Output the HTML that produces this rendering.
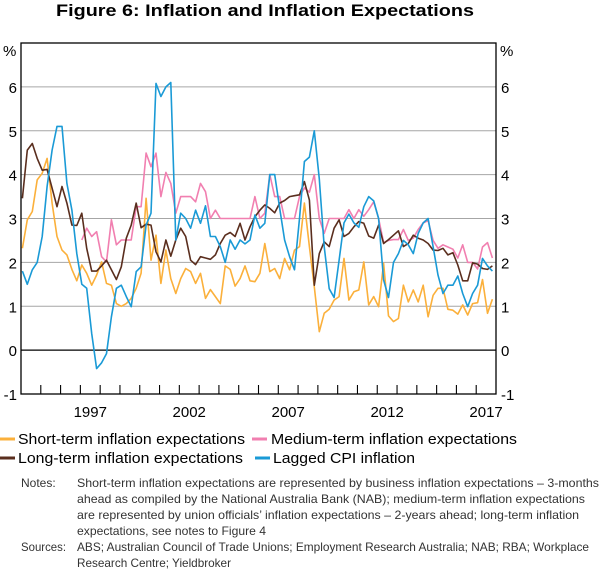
<!DOCTYPE html>
<html><head><meta charset="utf-8"><style>
html,body{margin:0;padding:0;background:#fff;}
svg{display:block;font-family:"Liberation Sans",Arial,sans-serif;}
</style></head><body>
<svg id="chart" width="600" height="571" viewBox="0 0 600 571" xmlns="http://www.w3.org/2000/svg">
<text x="56" y="16" font-size="17" font-weight="bold" textLength="418" lengthAdjust="spacingAndGlyphs">Figure 6: Inflation and Inflation Expectations</text>
<g id="grid"></g>
<g id="axes"></g>
<g id="series"></g>
<rect x="21" y="43" width="475" height="351" fill="none" stroke="#000" stroke-width="1.3"/>
<g font-size="15">
  <g><line x1="0" y1="439" x2="15" y2="439" stroke="#fbb03b" stroke-width="3"/><text x="18" y="444" textLength="227" lengthAdjust="spacingAndGlyphs">Short-term inflation expectations</text></g>
  <g><line x1="252" y1="439" x2="267" y2="439" stroke="#f17fb0" stroke-width="3"/><text x="271" y="444" textLength="246" lengthAdjust="spacingAndGlyphs">Medium-term inflation expectations</text></g>
  <g><line x1="0" y1="458" x2="15" y2="458" stroke="#5a2e1e" stroke-width="3"/><text x="18" y="463" textLength="225" lengthAdjust="spacingAndGlyphs">Long-term inflation expectations</text></g>
  <g><line x1="255" y1="458" x2="270" y2="458" stroke="#1a9ad6" stroke-width="3"/><text x="273" y="463" textLength="142" lengthAdjust="spacingAndGlyphs">Lagged CPI inflation</text></g>
</g>
<g font-size="12" fill="#333">
  <text x="21" y="487">Notes:</text>
  <text x="77" y="487" textLength="522" lengthAdjust="spacingAndGlyphs">Short-term inflation expectations are represented by business inflation expectations – 3-months</text>
  <text x="77" y="503" textLength="508" lengthAdjust="spacingAndGlyphs">ahead as compiled by the National Australia Bank (NAB); medium-term inflation expectations</text>
  <text x="77" y="519" textLength="502" lengthAdjust="spacingAndGlyphs">are represented by union officials’ inflation expectations – 2-years ahead; long-term inflation</text>
  <text x="77" y="535" textLength="189" lengthAdjust="spacingAndGlyphs">expectations, see notes to Figure 4</text>
</g>
<g font-size="12" fill="#333">
  <text x="21" y="551" textLength="45" lengthAdjust="spacingAndGlyphs">Sources:</text>
  <text x="77" y="551" textLength="512" lengthAdjust="spacingAndGlyphs">ABS; Australian Council of Trade Unions; Employment Research Australia; NAB; RBA; Workplace</text>
  <text x="77" y="567" textLength="154" lengthAdjust="spacingAndGlyphs">Research Centre; Yieldbroker</text>
</g>
</svg>
<script>
const startYear = 1994;
const yTicks = [-1,0,1,2,3,4,5,6];
const xLabels = [1997,2002,2007,2012,2017];
const shortTerm = [2.32,2.97,3.16,3.88,4.03,4.37,3.35,2.59,2.28,2.17,1.84,1.58,1.94,1.75,1.48,1.71,2.01,1.52,1.48,1.06,1.0,1.06,1.18,1.41,1.75,3.46,2.05,2.62,1.52,2.28,1.63,1.29,1.63,1.86,1.79,1.52,1.75,1.18,1.38,1.22,1.06,1.92,1.84,1.46,1.63,1.92,1.58,1.56,1.75,2.43,1.79,1.86,1.63,2.09,1.83,2.28,2.36,3.35,2.36,1.44,0.42,0.84,0.93,1.14,1.22,2.09,1.14,1.33,1.37,2.01,1.03,1.22,0.99,1.98,0.78,0.65,0.72,1.48,1.1,1.37,1.1,1.48,0.76,1.25,1.41,1.41,0.93,0.91,0.82,1.03,0.8,1.06,1.08,1.61,0.84,1.16];
const mediumTerm = [null,null,null,null,null,null,null,null,null,null,null,null,2.51,2.78,2.59,2.7,2.13,2.01,2.97,2.4,2.51,2.51,2.51,3.27,3.27,4.49,4.18,4.49,3.5,4.05,3.8,3.12,3.5,3.5,3.5,3.38,3.8,3.61,3.0,3.19,3.0,3.0,3.0,3.0,3.0,3.0,3.0,3.5,3.0,3.12,4.0,3.5,3.5,3.0,3.0,3.0,3.5,3.7,3.6,4.0,3.0,2.66,3.0,3.0,3.0,3.0,3.2,3.0,3.2,3.05,3.2,3.38,3.0,2.45,2.5,2.52,2.52,2.75,2.5,2.55,2.75,2.9,2.95,2.5,2.32,2.4,2.35,2.3,2.1,2.4,2.0,2.0,1.85,2.35,2.45,2.1];
const longTerm = [3.46,4.56,4.71,4.37,4.1,4.12,3.69,3.27,3.73,3.35,2.85,2.84,3.12,2.32,1.8,1.8,1.92,2.05,1.83,1.61,1.9,2.55,2.85,3.35,2.79,2.87,2.85,2.24,2.01,2.51,2.14,2.51,2.78,2.59,2.05,1.95,2.13,2.1,2.07,2.17,2.43,2.62,2.68,2.59,2.89,2.51,2.81,3.04,3.19,3.31,3.23,3.13,3.35,3.41,3.5,3.52,3.54,3.84,3.42,1.48,2.2,2.47,2.36,2.78,2.97,2.59,2.66,2.81,2.93,2.89,2.6,2.55,2.85,2.43,2.52,2.62,2.72,2.36,2.43,2.62,2.55,2.51,2.43,2.28,2.27,2.32,2.17,2.22,1.94,1.58,1.58,1.99,1.96,1.86,1.84,1.92];
const laggedCpi = [1.8,1.5,1.83,2.0,2.59,3.73,4.56,5.1,5.1,3.8,3.19,2.2,1.5,1.41,0.38,-0.42,-0.29,-0.08,0.76,1.41,1.48,1.22,0.99,1.79,1.9,2.85,3.12,6.08,5.78,6.0,6.1,2.51,3.12,3.0,2.78,3.19,2.89,3.29,2.59,2.59,2.36,2.0,2.51,2.3,2.51,2.42,2.51,3.08,2.78,2.89,4.0,4.0,3.23,2.51,2.13,1.83,3.0,4.3,4.4,5.0,3.9,2.36,1.4,1.2,2.05,2.9,3.1,2.9,2.8,3.27,3.5,3.4,3.0,1.6,1.2,2.0,2.2,2.5,2.4,2.2,2.66,2.9,3.0,2.36,1.71,1.29,1.48,1.48,1.69,1.29,0.99,1.29,1.48,2.09,1.92,1.8];

const NS='http://www.w3.org/2000/svg';
const L=21,R=496,T=43,B=394,yMin=-1,yMax=7,yearMin=1994,yearMax=2018;
function xScale(t){return L+(t-yearMin)/(yearMax-yearMin)*(R-L);}
function yScale(v){return B-(v-yMin)/(yMax-yMin)*(B-T);}
function mk(tag,attrs,parent){const e=document.createElementNS(NS,tag);for(const k in attrs)e.setAttribute(k,attrs[k]);parent.appendChild(e);return e;}
const grid=document.getElementById('grid'),axes=document.getElementById('axes'),series=document.getElementById('series');
yTicks.forEach(v=>{
  const y=yScale(v);
  if(v>yMin){const g=mk('line',{x1:L,x2:R,y1:y,y2:y,stroke:v===0?'#000':'#a6a6a6','stroke-width':v===0?1.2:1.1},grid);
  
  }
  const a=mk('text',{x:17,y:y+6,'font-size':15,'text-anchor':'end'},axes);a.textContent=String(v);
  
  
  const b=mk('text',{x:501,y:y+6,'font-size':15},axes);b.textContent=String(v);
  
  
});
const pl=mk('text',{x:3,y:56,'font-size':15},axes);pl.textContent='%';


const pr=mk('text',{x:500,y:56,'font-size':15},axes);pr.textContent='%';


for(let yr=yearMin+1;yr<yearMax;yr++){
  const x=xScale(yr);
  const t=mk('line',{x1:x,x2:x,y1:B,y2:B-9,stroke:'#000','stroke-width':1.1},axes);
  
  
}
xLabels.forEach(yr=>{
  const t=mk('text',{x:xScale(yr+0.5),y:417,'font-size':15,'text-anchor':'middle'},axes);t.textContent=String(yr);
  
  
});
function drawSeries(arr,color,name){
  let d='',pen=false;
  arr.forEach((v,i)=>{
    if(v===null||v===undefined){pen=false;return;}
    const x=xScale(startYear+0.07+i*0.25),y=yScale(v);
    d+=(pen?'L':'M')+x.toFixed(1)+' '+y.toFixed(1);pen=true;
  });
  const p=mk('path',{d:d,fill:'none',stroke:color,'stroke-width':1.6,'stroke-linejoin':'round'},series);
  
  
}
drawSeries(shortTerm,'#fbb03b','short-term-line');
drawSeries(mediumTerm,'#f17fb0','medium-term-line');
drawSeries(longTerm,'#5a2e1e','long-term-line');
drawSeries(laggedCpi,'#1a9ad6','lagged-cpi-line');
</script>
</body></html>
